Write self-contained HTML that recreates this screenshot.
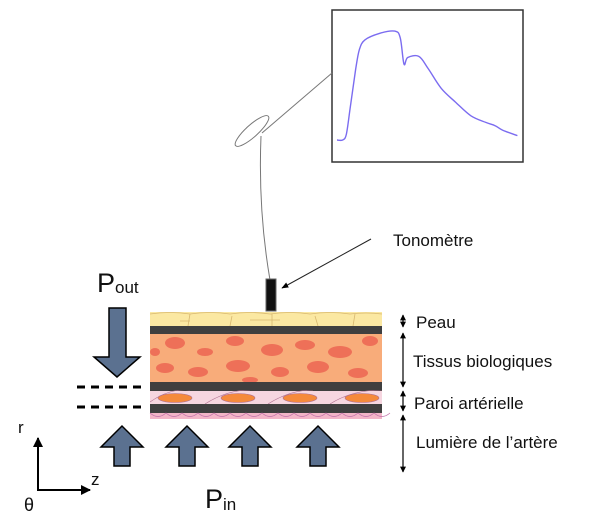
<!DOCTYPE html>
<html><head><meta charset="utf-8">
<style>
html,body{margin:0;padding:0;background:#fff;}
svg{display:block;font-family:"Liberation Sans","DejaVu Sans",sans-serif;}
</style></head>
<body>
<svg id="fig" width="600" height="521" viewBox="0 0 600 521" xmlns="http://www.w3.org/2000/svg">
<defs>
  <marker id="ah" viewBox="0 0 10 10" refX="9" refY="5" markerWidth="7" markerHeight="7" orient="auto-start-reverse"><path d="M0,1 L10,5 L0,9 z" fill="#000"/></marker>
  <marker id="ahs" viewBox="0 0 10 10" refX="9" refY="5" markerWidth="5" markerHeight="5" orient="auto-start-reverse"><path d="M0,0 L10,5 L0,10 z" fill="#000"/></marker>
  <clipPath id="tissueclip"><rect x="150" y="334" width="232" height="48"/></clipPath>
  <clipPath id="wallclip"><rect x="150" y="390" width="232" height="14"/></clipPath>
</defs>

<rect x="332" y="10" width="191" height="152" fill="#fff" stroke="#333" stroke-width="1.5"/>
<g id="wave"></g>

<path d="M332,73 L262,133" stroke="#777" stroke-width="1" fill="none"/>
<ellipse cx="252" cy="131" rx="22" ry="6" transform="rotate(-42 252 131)" fill="none" stroke="#777" stroke-width="1"/>
<path d="M261,136 Q258,210 270,280" stroke="#777" stroke-width="1" fill="none"/>

<rect x="266" y="279" width="10" height="32" fill="#111" stroke="#666" stroke-width="1"/>
<line x1="371" y1="239" x2="282" y2="288" stroke="#222" stroke-width="1" marker-end="url(#ah)"/>
<text x="393" y="246" font-size="17" fill="#111">Tonomètre</text>

<g>
  <rect x="150" y="312" width="232" height="14" fill="#fbe8a2"/>
  <path d="M150,314 q20,-3 40,0 q20,-3 40,0 q20,-3 40,0 q20,-3 40,0 q20,-3 40,0 q16,-2 32,0 M190,314 l-2,12 M232,316 l-2,10 M272,314 l0,12 M315,316 l3,10 M355,314 l-2,12 M180,321 h10 M250,320 h30" stroke="#d8b870" stroke-width="0.8" fill="none"/>
  <rect x="150" y="326" width="232" height="8" fill="#3f3f3f"/>
  <rect x="150" y="334" width="232" height="48" fill="#f8ac7a"/>
  <g clip-path="url(#tissueclip)" fill="#ee7058">
    <ellipse cx="175" cy="343" rx="10" ry="6"/><ellipse cx="205" cy="352" rx="8" ry="4"/><ellipse cx="235" cy="341" rx="9" ry="5"/>
    <ellipse cx="272" cy="350" rx="11" ry="6"/><ellipse cx="305" cy="345" rx="10" ry="5"/><ellipse cx="340" cy="352" rx="12" ry="6"/>
    <ellipse cx="370" cy="341" rx="8" ry="5"/><ellipse cx="165" cy="368" rx="9" ry="5"/><ellipse cx="198" cy="372" rx="10" ry="5"/>
    <ellipse cx="238" cy="366" rx="12" ry="6"/><ellipse cx="280" cy="372" rx="9" ry="5"/><ellipse cx="318" cy="367" rx="11" ry="6"/>
    <ellipse cx="358" cy="373" rx="10" ry="5"/><ellipse cx="250" cy="380" rx="8" ry="3"/><ellipse cx="155" cy="352" rx="5" ry="4"/>
  </g>
  <rect x="150" y="382" width="232" height="9" fill="#3f3f3f"/>
  <rect x="150" y="391" width="232" height="13" fill="#f6d6e0"/>
  <g clip-path="url(#wallclip)">
    <g fill="#f58a3c" stroke="#b07090" stroke-width="0.6">
      <ellipse cx="175" cy="398" rx="17" ry="4.5"/><ellipse cx="238" cy="398" rx="17" ry="4.5"/><ellipse cx="300" cy="398" rx="17" ry="4.5"/><ellipse cx="362" cy="398" rx="17" ry="4.5"/>
    </g>
    <path d="M150,402 q20,-14 40,-12 M205,404 q22,-14 45,-14 M268,404 q22,-14 45,-14 M330,404 q22,-14 52,-14" stroke="#b07090" stroke-width="0.6" fill="none"/>
  </g>
  <rect x="150" y="404" width="232" height="9" fill="#3f3f3f"/>
  <rect x="150" y="413" width="232" height="6" fill="#f3b5c8"/>
  <path d="M150,413 q8,7 16,0 q8,7 16,0 q8,7 16,0 q8,7 16,0 q8,7 16,0 q8,7 16,0 q8,7 16,0 q8,7 16,0 q8,7 16,0 q8,7 16,0 q8,7 16,0 q8,7 16,0 q8,7 16,0 q8,7 16,0 q8,7 16,0" stroke="#c070a8" stroke-width="0.7" fill="none"/>
</g>

<line x1="77" y1="387" x2="146" y2="387" stroke="#000" stroke-width="3" stroke-dasharray="8,6"/>
<line x1="77" y1="407" x2="146" y2="407" stroke="#000" stroke-width="3" stroke-dasharray="8,6"/>

<path d="M109,308 H126 V357 H140 L117,377 L94,357 H109 Z" fill="#5b7190" stroke="#000" stroke-width="1.5"/>
<text x="97" y="292" font-size="27" fill="#111">P<tspan font-size="17" dy="1">out</tspan></text>

<g fill="#5b7190" stroke="#000" stroke-width="1.5">
  <path d="M114,466 V447 H101 L122,426 L143,447 H130 V466 Z"/>
  <path d="M179,466 V447 H166 L187,426 L208,447 H195 V466 Z"/>
  <path d="M242,466 V447 H229 L250,426 L271,447 H258 V466 Z"/>
  <path d="M310,466 V447 H297 L318,426 L339,447 H326 V466 Z"/>
</g>
<text x="205" y="508" font-size="27" fill="#111">P<tspan font-size="17" dy="2">in</tspan></text>

<line x1="38" y1="490" x2="38" y2="438" stroke="#000" stroke-width="2" marker-end="url(#ahs)"/>
<line x1="37" y1="490" x2="90" y2="490" stroke="#000" stroke-width="2" marker-end="url(#ahs)"/>
<text x="18" y="433" font-size="17" fill="#111">r</text>
<text x="91" y="485" font-size="17" fill="#111">z</text>
<text x="24" y="511" font-size="18" fill="#111">θ</text>

<g stroke="#000" stroke-width="1.2">
  <line x1="403" y1="315" x2="403" y2="327" marker-start="url(#ahs)" marker-end="url(#ahs)"/>
  <line x1="403" y1="333" x2="403" y2="387" marker-start="url(#ahs)" marker-end="url(#ahs)"/>
  <line x1="403" y1="391" x2="403" y2="411" marker-start="url(#ahs)" marker-end="url(#ahs)"/>
  <line x1="403" y1="415" x2="403" y2="472" marker-start="url(#ahs)" marker-end="url(#ahs)"/>
</g>
<g font-size="17" fill="#111">
  <text x="416" y="328">Peau</text>
  <text x="413" y="367">Tissus biologiques</text>
  <text x="414" y="409">Paroi artérielle</text>
  <text x="416" y="448">Lumière de l’artère</text>
</g>
</svg>
<script>
var wavT = [0.00,0.03,0.05,0.07,0.10,0.12,0.15,0.23,0.31,0.34,0.36,0.38,0.44,0.49,0.56,0.64,0.72,0.80,0.85,0.89,0.97];
var wavP = [0.00,0.00,0.05,0.28,0.64,0.82,0.91,0.97,0.99,0.93,0.69,0.75,0.76,0.65,0.47,0.34,0.22,0.16,0.13,0.09,0.04];
function xs(t){ return 337 + t*186; }
function ys(p){ return 140 - p*110; }
var pts = [];
for (var i=0;i<wavT.length;i++){ pts.push([xs(wavT[i]), ys(wavP[i])]); }
var d = 'M' + pts[0][0].toFixed(1) + ',' + pts[0][1].toFixed(1);
for (var j=0;j<pts.length-1;j++){
  var p0 = pts[Math.max(j-1,0)], p1 = pts[j], p2 = pts[j+1], p3 = pts[Math.min(j+2,pts.length-1)];
  var c1x = p1[0] + (p2[0]-p0[0])/6, c1y = p1[1] + (p2[1]-p0[1])/6;
  var c2x = p2[0] - (p3[0]-p1[0])/6, c2y = p2[1] - (p3[1]-p1[1])/6;
  d += ' C' + c1x.toFixed(1) + ',' + c1y.toFixed(1) + ' ' + c2x.toFixed(1) + ',' + c2y.toFixed(1) + ' ' + p2[0].toFixed(1) + ',' + p2[1].toFixed(1);
}
var p = document.createElementNS('http://www.w3.org/2000/svg','path');
p.setAttribute('d', d);
p.setAttribute('fill','none');
p.setAttribute('stroke','#7b6cf0');
p.setAttribute('stroke-width','1.4');
p.setAttribute('stroke-linejoin','round');


document.getElementById('wave').appendChild(p);
</script>
</body></html>
